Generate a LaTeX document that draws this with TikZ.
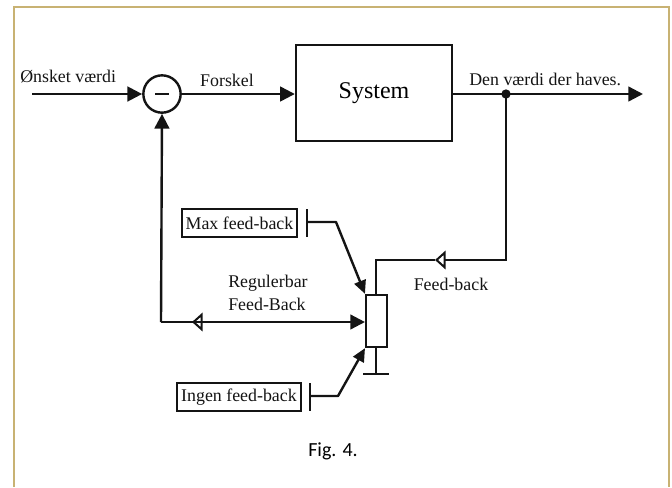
\documentclass[tikz,border=0pt]{standalone}
\usepackage{fontspec}
\setmainfont{Liberation Serif}
\newfontfamily\figfont{Carlito}
\usetikzlibrary{arrows.meta,calc}
\definecolor{rammeGul}{HTML}{C8B273}
\definecolor{stregSort}{HTML}{141414}
\tikzset{
  ledning/.style={draw=stregSort,line width=1.8pt},
  pil/.style={ledning,-{Triangle[length=11pt,width=11pt]}},
  lillepil/.style={ledning,-{Triangle[length=10pt,width=9pt]}},
  aaben/.style={ledning,-{Triangle[open,length=8pt,width=14pt,line width=1.5pt]}},
  tekst/.style={text=stregSort,inner sep=0pt,font=\fontsize{13.4}{15}\selectfont},
  kasse/.style={draw=stregSort,line width=1.8pt,inner sep=0pt,fill=white},
}
\begin{document}
\begin{tikzpicture}[x=0.75pt,y=-0.75pt]
\useasboundingbox (0,0) rectangle (672,487);
% ramme
\draw[rammeGul,line width=1.1pt] (14,487)--(14,7)--(669,7)--(669,487);
% blokke
\node[kasse,circle,minimum size=28pt] (sum) at (162,94) {};
\node[kasse,minimum width=117pt,minimum height=72pt] (system) at (374,93) {\fontsize{18}{20}\selectfont System};
\node[kasse,minimum width=15.5pt,minimum height=39pt] (pot) at (376.5,321) {};
\node[kasse,minimum width=86pt,minimum height=21pt,tekst] (maxk) at (239.5,223) {Max feed-back};
\node[kasse,minimum width=93pt,minimum height=21pt,tekst] (ingenk) at (239,397) {Ingen feed-back};
\coordinate (ind) at (32,94);
\coordinate (ud) at (643,94);
\coordinate (gren) at (506,94);
\coordinate (knaek) at (506,260);
\coordinate (hjoerne) at (376,260);
\coordinate (trefb) at (435,260);
\coordinate (bund) at (161,322);
\coordinate (treng) at (192,322);
\coordinate (trestart) at (260,322);
\coordinate (jord) at (376,374);
\coordinate (jordv) at (363,374);
\coordinate (jordh) at (389,374);
\coordinate (maxa) at (307,209);
\coordinate (maxb) at (307,237);
\coordinate (maxm) at (307,222);
\coordinate (maxq) at (336,222);
\coordinate (ingena) at (310,383);
\coordinate (ingenb) at (310,411);
\coordinate (ingenm) at (310,396);
\coordinate (ingenq) at (338,396);
\coordinate (minusa) at (155,94);
\coordinate (minusb) at (169,94);
% forbindelser
\draw[ledning] (minusa)--(minusb);
\draw[pil] (ind)--(sum.west);
\draw[pil] (sum.east)--(system.west |- sum.east);
\draw[pil] (system.east |- ud)--(ud);
\fill[stregSort] (gren) circle (3.5pt);
\draw[aaben] (gren)--(knaek)--(trefb);
\draw[ledning] (trefb)--(hjoerne)--(hjoerne |- pot.north);
\draw[pil] (bund)--(sum.south);
\draw[pil] (bund)--(pot.west |- bund);
\draw[aaben] (trestart)--(treng);
\draw[ledning] (pot.south -| jord)--(jord);
\draw[ledning] (jordv)--(jordh);
\draw[ledning] (maxa)--(maxb);
\draw[ledning] (ingena)--(ingenb);
\draw[lillepil,line join=round] (maxm)--(maxq)--(pot.north west);
\draw[lillepil,line join=round] (ingenm)--(ingenq)--(pot.south west);
% tekster
\node[tekst,anchor=west] (oensket) at (20,77) {Ønsket værdi};
\node[tekst] (forskel) at (227,80) {Forskel};
\node[tekst,anchor=west] (haves) at (469,79) {Den værdi der haves.};
\node[tekst,anchor=west] (regb) at (228,283) {Regulerbar};
\node[tekst,anchor=west] (regf) at (228,304) {Feed-Back};
\node[tekst] (feedb) at (451,284) {Feed-back};
\node[inner sep=0pt,font=\figfont\fontsize{15}{17}\selectfont] (fig) at (333,451) {Fig. 4.};
\end{tikzpicture}
\end{document}
